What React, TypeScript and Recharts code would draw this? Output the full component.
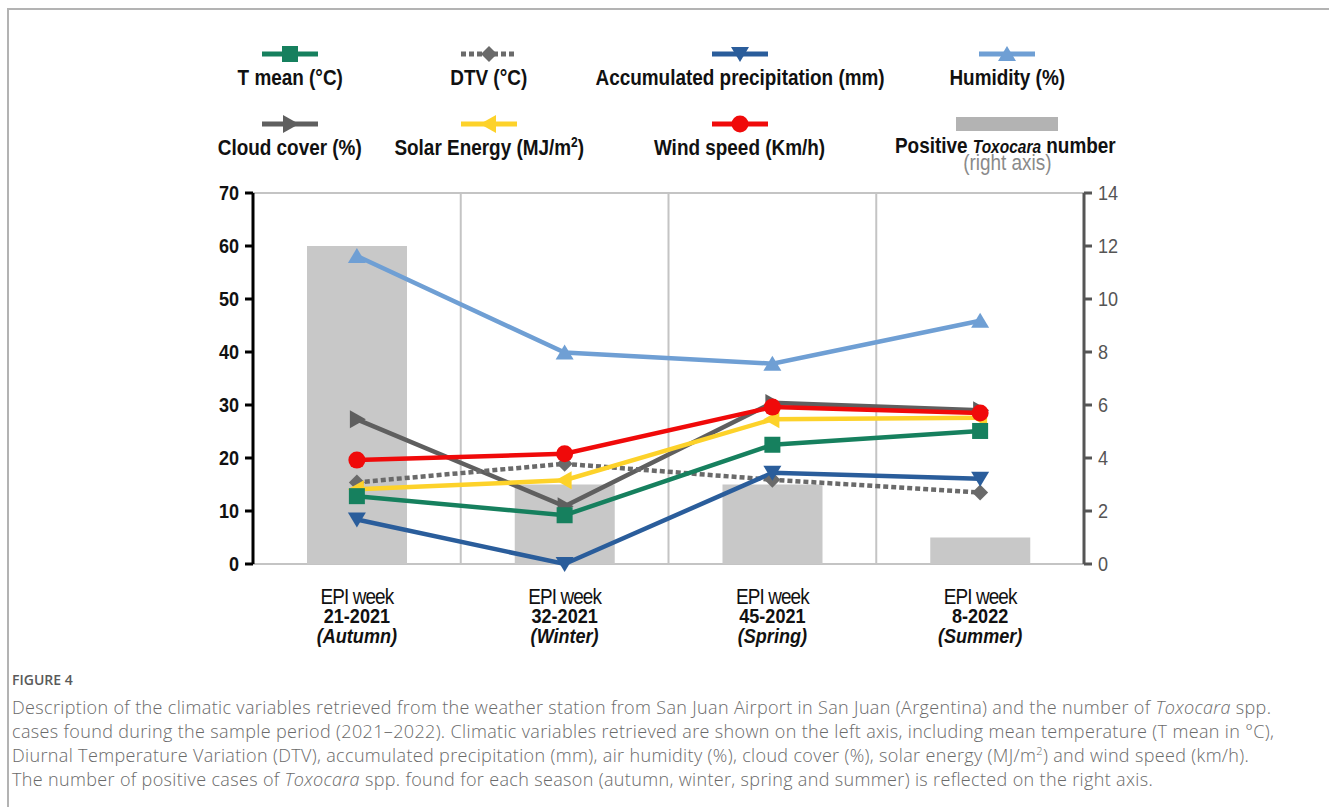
import React from "react";
import {
  ComposedChart,
  Line,
  Bar,
  XAxis,
  YAxis,
  CartesianGrid,
} from "recharts";

const categories = ["21-2021", "32-2021", "45-2021", "8-2022"];
const seasons = ["Autumn", "Winter", "Spring", "Summer"];
const tMean = [12.8, 9.2, 22.5, 25.1];
const dtv = [15.4, 18.9, 15.9, 13.5];
const precipitation = [8.4, 0, 17.2, 16.1];
const humidity = [58.1, 39.9, 37.8, 45.9];
const cloudCover = [27.3, 10.9, 30.4, 29.0];
const solarEnergy = [14.1, 15.8, 27.3, 27.6];
const windSpeed = [19.6, 20.8, 29.6, 28.5];
const toxocara = [12, 3, 3, 1];
const leftTicks = [0, 10, 20, 30, 40, 50, 60, 70];
const rightTicks = [0, 2, 4, 6, 8, 10, 12, 14];

const data = categories.map((c, i) => ({
  week: c,
  season: seasons[i],
  tMean: tMean[i],
  dtv: dtv[i],
  precipitation: precipitation[i],
  humidity: humidity[i],
  cloudCover: cloudCover[i],
  solarEnergy: solarEnergy[i],
  windSpeed: windSpeed[i],
  toxocara: toxocara[i],
}));

const FONT = '"Liberation Sans", Arial, sans-serif';
const NARROW = 0.86;

type Shape = "square" | "diamond" | "down" | "up" | "right" | "left" | "circle";

const Marker = ({ cx, cy, shape, color }: { cx: number; cy: number; shape: Shape; color: string }) => {
  if (cx == null || cy == null) return null;
  switch (shape) {
    case "square":
      return <rect x={cx - 8} y={cy - 8} width={16} height={16} fill={color} />;
    case "diamond":
      return <polygon points={`${cx},${cy - 8} ${cx + 8},${cy} ${cx},${cy + 8} ${cx - 8},${cy}`} fill={color} />;
    case "down":
      return <polygon points={`${cx - 9},${cy - 7} ${cx + 9},${cy - 7} ${cx},${cy + 8}`} fill={color} />;
    case "up":
      return <polygon points={`${cx - 9},${cy + 7} ${cx + 9},${cy + 7} ${cx},${cy - 8}`} fill={color} />;
    case "right":
      return <polygon points={`${cx - 7},${cy - 9} ${cx - 7},${cy + 9} ${cx + 9},${cy}`} fill={color} />;
    case "left":
      return <polygon points={`${cx + 7},${cy - 9} ${cx + 7},${cy + 9} ${cx - 9},${cy}`} fill={color} />;
    default:
      return <circle cx={cx} cy={cy} r={8.5} fill={color} />;
  }
};

const series: { key: string; color: string; shape: Shape; dash?: string }[] = [
  { key: "humidity", color: "#6f9fd4", shape: "up" },
  { key: "cloudCover", color: "#5f5f5f", shape: "right" },
  { key: "dtv", color: "#6a6a6a", shape: "diamond", dash: "5 3" },
  { key: "solarEnergy", color: "#fdd22a", shape: "left" },
  { key: "tMean", color: "#16805e", shape: "square" },
  { key: "precipitation", color: "#2a5d9b", shape: "down" },
  { key: "windSpeed", color: "#f00a0a", shape: "circle" },
];

const XTick = (props: any) => {
  const { x, y, payload, index } = props;
  return (
    <g transform={`translate(${x},${y}) scale(${NARROW},1)`} fontFamily={FONT} fill="#111" textAnchor="middle">
      <text y={38} fontSize={22} letterSpacing={-1}>EPI week</text>
      <text y={57} fontSize={21} fontWeight="bold">{payload.value}</text>
      <text y={77} fontSize={21} fontWeight="bold" fontStyle="italic">({data[index].season})</text>
    </g>
  );
};

const LeftTick = (props: any) => {
  const { x, y, payload } = props;
  return (
    <g transform={`translate(${x - 4},${y}) scale(${NARROW},1)`}>
      <text textAnchor="end" dy={7} fontFamily={FONT} fontSize={21} fontWeight="bold" fill="#111">{payload.value}</text>
    </g>
  );
};

const RightTick = (props: any) => {
  const { x, y, payload } = props;
  return (
    <g transform={`translate(${x + 4},${y}) scale(${NARROW},1)`}>
      <text textAnchor="start" dy={7} fontFamily={FONT} fontSize={21} fill="#555">{payload.value}</text>
    </g>
  );
};

const LegendIcon = ({ color, shape, dash }: { color: string; shape?: Shape; dash?: string }) => (
  <svg width={60} height={20} style={{ display: "block", margin: "0 auto" }}>
    <line x1={2} y1={10} x2={58} y2={10} stroke={color} strokeWidth={5} strokeDasharray={dash} />
    {shape && <Marker cx={30} cy={10} shape={shape} color={color} />}
  </svg>
);

const legendRows: { name: React.ReactNode; key: string; cx: number; top: number }[] = [
  { key: "tMean", name: "T mean (°C)", cx: 290, top: 44 },
  { key: "dtv", name: "DTV (°C)", cx: 489, top: 44 },
  { key: "precipitation", name: "Accumulated precipitation (mm)", cx: 740, top: 44 },
  { key: "humidity", name: "Humidity (%)", cx: 1007, top: 44 },
  { key: "cloudCover", name: "Cloud cover (%)", cx: 290, top: 114 },
  { key: "solarEnergy", name: <span>Solar Energy (MJ/m<sup style={{ fontSize: 14, lineHeight: 0 }}>2</sup>)</span>, cx: 489, top: 114 },
  { key: "windSpeed", name: "Wind speed (Km/h)", cx: 740, top: 114 },
];

const narrowText: React.CSSProperties = {
  display: "inline-block",
  transform: `scaleX(${NARROW})`,
  transformOrigin: "center",
  whiteSpace: "nowrap",
};

const App = () => (
  <div style={{ position: "absolute", left: 0, top: 0, width: 1329, height: 807, background: "#fff", overflow: "hidden" }}>
    <div style={{ position: "absolute", left: 7, top: 8, right: -10, bottom: -10, borderTop: "2px solid #b3b3b3", borderLeft: "2px solid #b3b3b3" }} />
    <div style={{ position: "absolute", left: 0, top: 0 }}>
      <ComposedChart width={1329} height={660} data={data} margin={{ top: 193, right: 185, bottom: 6, left: 193 }}>
        <CartesianGrid
          stroke="#c4c4c4"
          strokeWidth={2}
          verticalCoordinatesGenerator={({ offset }: any) =>
            [1, 2, 3].map((i) => offset.left + (i * offset.width) / 4)
          }
        />
        <XAxis dataKey="week" axisLine={false} tickLine={false} tickSize={0} tick={<XTick />} height={90} interval={0} />
        <YAxis
          yAxisId="left"
          domain={[0, 70]}
          ticks={leftTicks}
          width={60}
          stroke="#000"
          strokeWidth={3}
          tickSize={8}
          tick={<LeftTick />}
        />
        <YAxis
          yAxisId="right"
          orientation="right"
          domain={[0, 14]}
          ticks={rightTicks}
          width={60}
          stroke="#555"
          strokeWidth={3}
          tickSize={8}
          tick={<RightTick />}
        />
        <Bar yAxisId="right" dataKey="toxocara" fill="#c8c8c8" barSize={100} isAnimationActive={false} />
        {series.map((s) => (
          <Line
            key={s.key}
            yAxisId="left"
            dataKey={s.key}
            stroke={s.color}
            strokeWidth={4.5}
            strokeDasharray={s.dash}
            type="linear"
            isAnimationActive={false}
            dot={(p: any) => <Marker key={`${s.key}-${p.index}`} cx={p.cx} cy={p.cy} shape={s.shape} color={s.color} />}
            activeDot={false}
          />
        ))}
      </ComposedChart>
    </div>

    {legendRows.map((r) => {
      const s = series.find((x) => x.key === r.key)!;
      return (
        <div key={r.key} style={{ position: "absolute", left: r.cx - 200, width: 400, top: r.top, textAlign: "center", fontFamily: FONT, fontWeight: "bold", fontSize: 22, color: "#111" }}>
          <LegendIcon color={s.color} shape={s.shape} dash={s.dash} />
          <div style={{ marginTop: 2, lineHeight: "24px" }}>
            <span style={narrowText}>{r.name}</span>
          </div>
        </div>
      );
    })}
    <div style={{ position: "absolute", left: 805, width: 400, top: 114, textAlign: "center", fontFamily: FONT, fontWeight: "bold", fontSize: 22, color: "#111" }}>
      <div style={{ width: 102, height: 14, background: "#b3b3b3", margin: "3px auto 3px", position: "relative", left: 2 }} />
      <div style={{ marginTop: 2, lineHeight: "24px" }}>
        <span style={narrowText}>
          Positive <i style={{ fontSize: 18 }}>Toxocara</i> number
        </span>
      </div>
      <div style={{ fontWeight: "normal", color: "#8a8a8a", lineHeight: "18px", marginTop: -5, fontSize: 22, position: "relative", left: 2 }}>
        <span style={narrowText}>(right axis)</span>
      </div>
    </div>

    <div style={{ position: "absolute", left: 12, top: 671, fontFamily: '"Open Sans", "Noto Sans", sans-serif', color: "#5a5a5a" }}>
      <div style={{ fontSize: 14, fontWeight: 600, lineHeight: "18px" }}>FIGURE 4</div>
      <div style={{ fontSize: 18, lineHeight: "24px", marginTop: 6, letterSpacing: 0.35, color: "#6a6a6a", whiteSpace: "nowrap", fontWeight: 300 }}>
        Description of the climatic variables retrieved from the weather station from San Juan Airport in San Juan (Argentina) and the number of <i>Toxocara</i> spp.
        <br />
        cases found during the sample period (2021–2022). Climatic variables retrieved are shown on the left axis, including mean temperature (T mean in °C),
        <br />
        Diurnal Temperature Variation (DTV), accumulated precipitation (mm), air humidity (%), cloud cover (%), solar energy (MJ/m<sup style={{ fontSize: 11, lineHeight: 0 }}>2</sup>) and wind speed (km/h).
        <br />
        The number of positive cases of <i>Toxocara</i> spp. found for each season (autumn, winter, spring and summer) is reflected on the right axis.
      </div>
    </div>
  </div>
);

export default App;
